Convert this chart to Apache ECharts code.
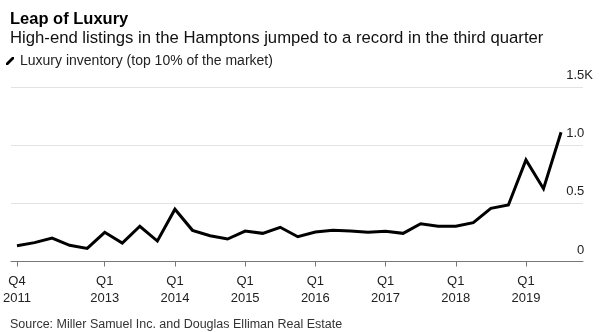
<!DOCTYPE html>
<html>
<head>
<meta charset="utf-8">
<script src="https://cdn.jsdelivr.net/npm/echarts@6/dist/echarts.min.js"></script>
<style>html,body{margin:0;padding:0;background:#fff}#c{width:600px;height:332px}</style>
</head>
<body>
<div id="c"></div>
<script>
const quarters = ['Q4 2011','Q1 2012','Q2 2012','Q3 2012','Q4 2012','Q1 2013','Q2 2013','Q3 2013','Q4 2013','Q1 2014','Q2 2014','Q3 2014','Q4 2014','Q1 2015','Q2 2015','Q3 2015','Q4 2015','Q1 2016','Q2 2016','Q3 2016','Q4 2016','Q1 2017','Q2 2017','Q3 2017','Q4 2017','Q1 2018','Q2 2018','Q3 2018','Q4 2018','Q1 2019','Q2 2019','Q3 2019'];
const luxuryInventory = [0.136,0.162,0.202,0.139,0.113,0.251,0.159,0.303,0.176,0.449,0.268,0.222,0.193,0.262,0.242,0.294,0.213,0.254,0.268,0.262,0.251,0.259,0.242,0.325,0.303,0.303,0.334,0.457,0.486,0.873,0.626,1.111];
const labeledQuarters = ['Q4 2011','Q1 2013','Q1 2014','Q1 2015','Q1 2016','Q1 2017','Q1 2018','Q1 2019'];
const yTicks = [0, 0.5, 1.0, 1.5];

const FONT = 'Liberation Sans';
const tickIdx = labeledQuarters.map(q => quarters.indexOf(q));
const chart = echarts.init(document.getElementById('c'), null, {renderer: 'canvas'});
chart.setOption({
  animation: false,
  textStyle: {fontFamily: FONT},
  title: [
    {text: 'Leap of Luxury', left: 5, top: 6, textStyle: {fontFamily: FONT, fontSize: 16.5, fontWeight: 'bold', color: '#000'}},
    {text: 'High-end listings in the Hamptons jumped to a record in the third quarter', left: 5, top: 25, textStyle: {fontFamily: FONT, fontSize: 16.7, fontWeight: 'normal', color: '#111'}},
    {text: 'Source: Miller Samuel Inc. and Douglas Elliman Real Estate', left: 5, top: 313, textStyle: {fontFamily: FONT, fontSize: 12.5, fontWeight: 'normal', color: '#333'}}
  ],
  legend: {
    left: 1, top: 49, itemWidth: 8, itemHeight: 8, itemGap: 10,
    icon: 'path://M0,6 L6,0 L8,0 L8,2 L2,8 L0,8 Z',
    textStyle: {fontFamily: FONT, fontSize: 14, color: '#222', padding: [0,0,0,1]},
    data: [{name: 'Luxury inventory (top 10% of the market)', itemStyle: {color: '#000'}}]
  },
  grid: {left: 10, right: 17, top: 87, bottom: 70.5, containLabel: false},
  xAxis: {
    type: 'value',
    min: -0.341, max: 32.25,
    splitLine: {show: false},
    axisLine: {show: true, onZero: false, lineStyle: {color: '#777', width: 1}},
    axisTick: {show: true, length: 5, customValues: tickIdx, lineStyle: {color: '#777'}},
    axisLabel: {
      customValues: tickIdx, margin: 11, fontSize: 13, lineHeight: 17, color: '#222', fontFamily: FONT,
      formatter: v => quarters[Math.round(v)].replace(' ', '\n')
    }
  },
  yAxis: {
    type: 'value', position: 'right', min: 0, max: 1.5, interval: 0.5,
    axisLine: {show: false}, axisTick: {show: false},
    splitLine: {lineStyle: {color: '#e3e3e3', width: 1}},
    axisLabel: {
      inside: true, margin: -10, verticalAlign: 'bottom', padding: [0,0,5,0],
      fontSize: 13, color: '#222', fontFamily: FONT,
      formatter: v => {
        const s = v === 0 ? '0' : v.toFixed(1);
        return '{a|' + s + '}' + (v === 1.5 ? '{k|K}' : '{h|K}');
      },
      rich: {
        a: {fontSize: 13, color: '#222', fontFamily: FONT},
        k: {fontSize: 13, color: '#222', fontFamily: FONT},
        h: {fontSize: 13, color: 'rgba(0,0,0,0)', fontFamily: FONT}
      }
    }
  },
  series: [{
    name: 'Luxury inventory (top 10% of the market)',
    type: 'line',
    data: luxuryInventory.map((v, i) => [i, v]),
    showSymbol: false, symbol: 'none',
    lineStyle: {color: '#000', width: 3, join: 'miter'},
    itemStyle: {color: '#000'}
  }]
});
</script>
</body>
</html>
